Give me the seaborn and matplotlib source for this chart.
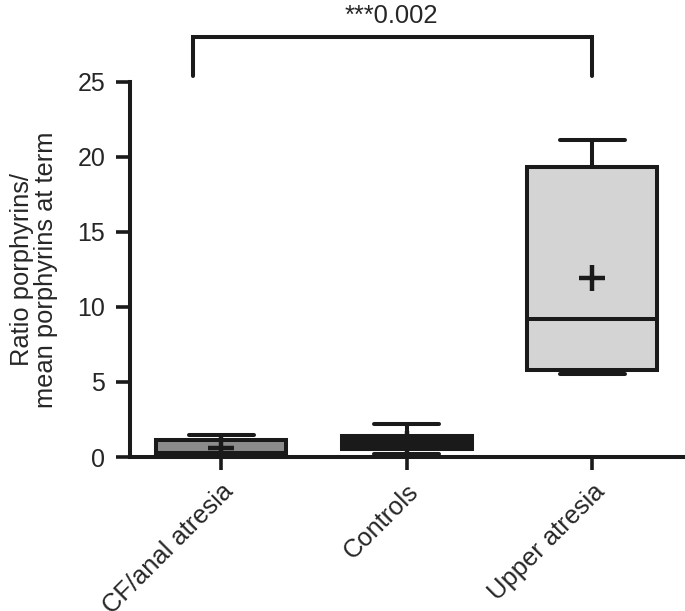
import numpy as np
import pandas as pd
import matplotlib
matplotlib.use("Agg")
import matplotlib.pyplot as plt
import matplotlib.transforms as mtransforms
import seaborn as sns

# Data (five-number summaries: min, Q1, median, Q3, max)
categories = ["CF/anal atresia", "Controls", "Upper atresia"]
cf_values = [0.0, 0.27, 0.3, 1.13, 1.5]
controls_values = [0.2, 0.55, 0.9, 1.4, 2.2]
upper_values = [5.5, 5.8, 9.2, 19.3, 21.1]
means = [0.6, 0.9, 11.9]
fills = ["#8c8c8c", "#1a1a1a", "#d4d4d4"]
yticks = [0, 5, 10, 15, 20, 25]
sig_label = "***0.002"

sns.set_style("ticks")
plt.rcParams["font.family"] = ["Liberation Sans", "DejaVu Sans"]

df = pd.DataFrame({
    "group": np.repeat(categories, 5),
    "value": cf_values + controls_values + upper_values,
})

fig = plt.figure(figsize=(6.85, 6.11), dpi=100)
ax = fig.add_axes([0.19, 0.252, 0.81, 0.614])

lc = "#1a1a1a"
lw = 2.9
fs = 18
sns.boxplot(data=df, x="group", y="value", hue="group", order=categories,
            hue_order=categories, palette=fills, legend=False, whis=(0, 100),
            width=0.7, linewidth=lw, linecolor=lc, saturation=1, ax=ax,
            showfliers=False, dodge=False)

sns.scatterplot(x=np.arange(len(categories)), y=means, marker="+", s=330,
                color=lc, linewidth=3.2, ax=ax, zorder=5)

ax.set_xlim(-0.49, 2.5)
ax.set_ylim(0, 25)
ax.set_yticks(yticks)
ax.set_xticks(range(len(categories)))
ax.set_xticklabels(categories, rotation=45, ha="right", rotation_mode="anchor",
                   fontsize=18.4)
offset = mtransforms.ScaledTranslation(-5 / 100, 0, fig.dpi_scale_trans)
for lbl in ax.get_xticklabels():
    lbl.set_transform(lbl.get_transform() + offset)
ax.tick_params(axis="y", labelsize=fs, length=10, width=2.6, color=lc, pad=8)
ax.tick_params(axis="x", length=9, width=2.6, color=lc, pad=7)
for s in ["top", "right"]:
    ax.spines[s].set_visible(False)
for s in ["left", "bottom"]:
    ax.spines[s].set_linewidth(2.9)
    ax.spines[s].set_color(lc)
ax.set_xlabel("")
ax.set_ylabel("Ratio porphyrins/\nmean porphyrins at term", fontsize=18.4,
              linespacing=1.0, labelpad=14)

# significance bracket
bx0, bx1, by_top, by_bot = -0.15, 2.0, 28.0, 25.4
ax.plot([bx0, bx0, bx1, bx1], [by_bot, by_top, by_top, by_bot], color=lc,
        lw=2.9, clip_on=False, solid_joinstyle="miter")
ax.text((bx0 + bx1) / 2 - 0.01, 28.95, sig_label, ha="center", va="baseline",
        fontsize=18.4, clip_on=False)

fig.savefig("out.png", dpi=100)
